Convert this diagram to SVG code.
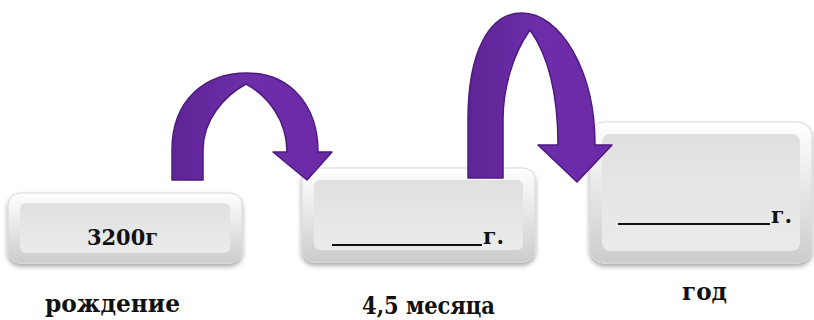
<svg xmlns="http://www.w3.org/2000/svg" width="814" height="320" viewBox="0 0 814 320">
<defs>
<linearGradient id="boxOuter" x1="0" y1="0" x2="0" y2="1">
<stop offset="0" stop-color="#ffffff"/>
<stop offset="0.5" stop-color="#e6e6e6"/>
<stop offset="1" stop-color="#cccccc"/>
</linearGradient>
<linearGradient id="boxInner" x1="0" y1="0" x2="0" y2="1">
<stop offset="0" stop-color="#e0e0e0"/>
<stop offset="1" stop-color="#ebebeb"/>
</linearGradient>
<linearGradient id="arrowFill" x1="0" y1="0" x2="1" y2="0">
<stop offset="0" stop-color="#5e2494"/>
<stop offset="0.5" stop-color="#6e2eab"/>
<stop offset="1" stop-color="#6a2aa6"/>
</linearGradient>
<filter id="shadow" x="-10%" y="-10%" width="120%" height="130%">
<feGaussianBlur in="SourceAlpha" stdDeviation="2.5"/>
<feOffset dy="3" result="b"/>
<feComponentTransfer><feFuncA type="linear" slope="0.35"/></feComponentTransfer>
<feMerge><feMergeNode/><feMergeNode in="SourceGraphic"/></feMerge>
</filter>
</defs>
<style>
.outer{fill:url(#boxOuter);stroke:#d8d8d8;stroke-width:1;filter:url(#shadow)}
.inner{fill:url(#boxInner)}
.t{font-weight:bold;fill:#111;font-family:"DejaVu Serif","Liberation Serif",serif}
.val{font-size:23px}
.lab{font-size:24px}
.blank{stroke:#111;stroke-width:2}
.arrow{fill:url(#arrowFill);stroke:#4e1a7e;stroke-width:1.5;stroke-linejoin:round}
</style>
<g id="node-birth">
<rect class="outer" x="8" y="193" width="234" height="70" rx="12"/>
<rect class="inner" x="20" y="203" width="210" height="50" rx="6"/>
<text class="t val" x="87" y="245" textLength="71" lengthAdjust="spacingAndGlyphs">3200г</text>
<text class="t lab" x="45" y="312" textLength="135" lengthAdjust="spacingAndGlyphs">рождение</text>
</g>
<g id="node-45months">
<rect class="outer" x="302" y="168" width="233" height="94" rx="12"/>
<rect class="inner" x="314" y="180" width="209" height="70" rx="6"/>
<line class="blank" x1="332" y1="245" x2="482" y2="245"/>
<text class="t val" x="483" y="244" textLength="21" lengthAdjust="spacingAndGlyphs">г.</text>
<text class="t lab" x="362" y="314" textLength="133" lengthAdjust="spacingAndGlyphs">4,5 месяца</text>
</g>
<g id="node-year">
<rect class="outer" x="590" y="122" width="222" height="141" rx="14"/>
<rect class="inner" x="602" y="134" width="198" height="117" rx="8"/>
<line class="blank" x1="618" y1="224" x2="770" y2="224"/>
<text class="t val" x="771" y="223" textLength="21" lengthAdjust="spacingAndGlyphs">г.</text>
<text class="t lab" x="682" y="300" textLength="45" lengthAdjust="spacingAndGlyphs">год</text>
</g>
<g id="connectors">
<path id="arrow1" class="arrow" d="M172,180 L172,150 C172,100 205,73 247,73 C290,73 318,105 318,152 L332,152 L307,180 L273,152 L287,152 C287,120 268,96 246,84 C224,96 203,120 203,150 L203,180 Z"/>
<path id="arrow2" class="arrow" d="M468,178 L468,120 C468,50 490,13 522,13 C560,13 595,70 595,145 L612,145 L577,182 L538,145 L558,145 C558,95 548,55 530,30 C512,55 503,90 503,120 L503,178 Z"/>
</g>
</svg>
